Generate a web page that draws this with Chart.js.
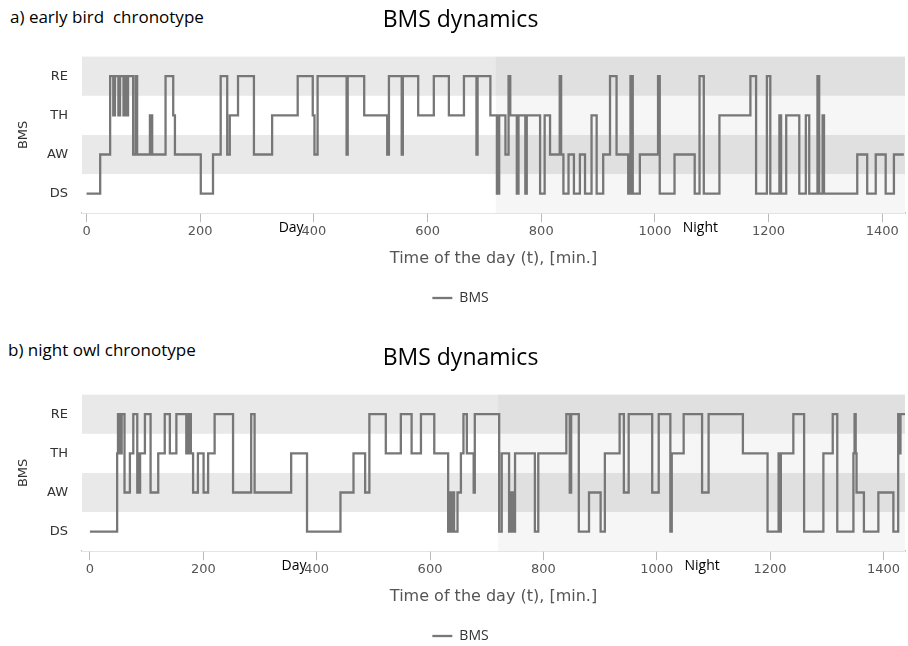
<!DOCTYPE html>
<html>
<head>
<meta charset="utf-8">
<script src="https://cdn.jsdelivr.net/npm/chart.js@4"></script>
<style>
  body { margin: 0; background: #fff; width: 908px; height: 646px; position: relative; overflow: hidden; }
  .panel { position: absolute; left: 0; width: 908px; height: 315px; }
  .tag { position: absolute; font-family: "Open Sans", sans-serif; font-size: 17px; color: #000; white-space: pre; }
</style>
</head>
<body>
<div class="tag" style="left:10px; top:5px;">a) early bird  chronotype</div>
<div class="tag" style="left:8px; top:338px;">b) night owl chronotype</div>
<div class="panel" style="top:0;"><canvas id="chart_a" width="908" height="315"></canvas></div>
<div class="panel" style="top:338px;"><canvas id="chart_b" width="908" height="315"></canvas></div>
<script>
const states = ["DS", "AW", "TH", "RE"];
const x_ticks = [0, 200, 400, 600, 800, 1000, 1200, 1400];
const period_labels = ["Day", "Night"];
const period_pos = [360, 1080];
const night_start = 720;

// each entry: time (min.) when the state starts
const early_t = [0, 24, 41.5, 47, 50, 56, 59, 65, 68, 71, 73, 82, 86.5, 89, 111.5, 115.5, 139, 152.5, 155.5, 201,
  222.5, 236, 247.5, 252, 266.5, 294.5, 326.5, 371.5, 398, 401, 406.5, 457.5, 459.5, 488.5, 529, 532, 554.5, 556.5,
  583.5, 611, 637.5, 664, 686, 688, 710.5, 722, 726, 737, 742.5, 745.5, 757, 760, 772, 774.5, 798, 806, 815.5,
  832.5, 835, 839, 848, 857.5, 868, 877, 888.5, 897.5, 909, 921, 932.5, 953, 957, 961, 973.5, 1005.5, 1008.5,
  1034.5, 1070, 1078.5, 1086, 1113.5, 1168, 1178, 1197, 1203, 1219, 1222, 1231, 1254, 1265.5, 1271.5, 1286, 1289,
  1295, 1297.5, 1356, 1373.5, 1388.5, 1406, 1420.5, 1438];
const early_s = ["DS", "AW", "RE", "TH", "RE", "TH", "RE", "TH", "RE", "TH", "RE", "AW", "RE", "AW", "TH", "AW", "RE", "TH", "AW", "DS",
  "AW", "RE", "AW", "TH", "RE", "AW", "TH", "RE", "TH", "AW", "RE", "AW", "RE", "TH", "AW", "RE", "AW", "RE",
  "TH", "RE", "TH", "RE", "AW", "RE", "TH", "DS", "TH", "AW", "RE", "TH", "DS", "TH", "DS", "TH", "DS", "TH", "AW",
  "RE", "AW", "DS", "AW", "DS", "AW", "DS", "TH", "DS", "AW", "RE", "AW", "DS", "RE", "DS", "AW", "RE", "DS",
  "AW", "DS", "RE", "DS", "TH", "RE", "DS", "RE", "DS", "TH", "DS", "TH", "DS", "TH", "DS", "RE", "DS",
  "TH", "DS", "AW", "DS", "AW", "DS", "AW", "AW"];

const owl_t = [0, 48, 49.5, 51, 52.5, 54, 56, 61, 70.5, 76.5, 83.5, 85, 86.5, 88.5, 97, 107, 120.5, 132, 141, 152.5,
  170, 172, 174, 176, 178, 182, 190.5, 200.5, 208.5, 220, 252.5, 284.5, 290.5, 355, 383, 442, 465, 485.5, 493,
  522, 548.5, 567.5, 584, 607.5, 632, 635, 637, 639, 642.5, 648.5, 654.5, 659, 665, 677, 679, 722, 726.5, 739.5,
  741, 743.5, 745.5, 747.5, 750, 785, 791, 840.5, 846.5, 849, 862.5, 880.5, 901, 908.5, 934.5, 942, 950.5, 992,
  1003.5, 1024, 1026.5, 1047.5, 1080, 1091.5, 1152, 1195.5, 1215, 1216.5, 1219, 1241, 1260, 1294, 1310.5, 1318.5,
  1347, 1349, 1351, 1352.5, 1365.5, 1391, 1417.5, 1426, 1428, 1430, 1438];
const owl_s = ["DS", "TH", "RE", "TH", "RE", "TH", "RE", "AW", "TH", "RE", "AW", "TH", "AW", "TH", "RE", "AW", "TH", "RE", "TH", "RE",
  "TH", "RE", "TH", "RE", "TH", "AW", "TH", "AW", "TH", "RE", "AW", "RE", "AW", "TH", "DS", "AW", "TH", "AW", "RE",
  "TH", "RE", "TH", "RE", "TH", "DS", "AW", "DS", "AW", "DS", "AW", "TH", "RE", "TH", "AW", "RE", "DS", "TH", "DS",
  "AW", "DS", "AW", "DS", "TH", "DS", "TH", "RE", "AW", "RE", "DS", "AW", "DS", "TH", "RE", "AW", "RE", "AW",
  "RE", "DS", "TH", "RE", "AW", "RE", "TH", "DS", "TH", "DS", "TH", "RE", "DS", "TH", "RE", "DS",
  "TH", "RE", "TH", "AW", "DS", "AW", "DS", "RE", "TH", "RE", "RE"];

const to_points = (t, s) => t.map((v, i) => ({ x: v, y: states.indexOf(s[i]) }));

// grey bands behind RE and AW, lighter shade over the night half
const bands = {
  id: "bands",
  beforeDatasetsDraw(chart) {
    const { ctx, chartArea: a, scales: { x, y } } = chart;
    ctx.save();
    states.forEach((s, i) => {
      const top = y.getPixelForValue(i + 0.5);
      const bot = y.getPixelForValue(i - 0.5);
      ctx.fillStyle = (s === "RE" || s === "AW") ? "#e9e9e9" : "#ffffff";
      ctx.fillRect(a.left, top, a.right - a.left, bot - top);
    });
    const nx = x.getPixelForValue(night_start);
    ctx.fillStyle = "rgba(0,0,0,0.035)";
    ctx.fillRect(nx, a.top, a.right - nx, a.bottom - a.top);
    ctx.restore();
  },
  afterDraw(chart) {
    const { ctx, chartArea: a, scales: { x } } = chart;
    ctx.save();
    ctx.font = "14px 'Open Sans', sans-serif";
    ctx.fillStyle = "#000";
    ctx.textAlign = "center";
    ctx.textBaseline = "middle";
    period_labels.forEach((l, i) => ctx.fillText(l, x.getPixelForValue(period_pos[i]), a.bottom + 15));
    ctx.restore();
  },
};

function make_chart(id, t, s, xmin, xmax) {
  return new Chart(document.getElementById(id), {
    type: "line",
    data: {
      datasets: [
        {
          label: "BMS",
          data: to_points(t, s),
          stepped: true,
          borderColor: "#777777",
          backgroundColor: "#777777",
          borderWidth: 2.3,
          pointRadius: 0,
        },
      ],
    },
    options: {
      responsive: false,
      animation: false,
      layout: { padding: { right: 3, left: 16 } },
      plugins: {
        title: {
          display: true,
          text: "BMS dynamics",
          color: "#000",
          font: { family: "Open Sans", size: 23, weight: "normal" },
          padding: { top: 7, bottom: 22 },
        },
        legend: {
          position: "bottom",
          labels: {
            usePointStyle: true,
            pointStyle: "line",
            pointStyleWidth: 20,
            padding: 4,
            color: "#333",
            font: { family: "Open Sans", size: 14 },
          },
        },
        tooltip: { enabled: false },
      },
      scales: {
        x: {
          type: "linear",
          min: xmin,
          max: xmax,
          afterBuildTicks: (axis) => { axis.ticks = x_ticks.map((v) => ({ value: v })); },
          grid: { drawOnChartArea: false, tickLength: 9, color: "#bbb" },
          border: { color: "#bbb", width: 1.5 },
          ticks: { color: "#555", font: { family: "DejaVu Sans", size: 13 }, padding: 2, callback: (v) => String(v) },
          title: {
            display: true,
            text: "Time of the day (t), [min.]",
            color: "#555",
            font: { family: "DejaVu Sans", size: 16 },
            padding: { top: 7, bottom: 19 },
          },
        },
        y: {
          type: "linear",
          min: -0.5,
          max: 3.5,
          afterBuildTicks: (axis) => { axis.ticks = states.map((v, i) => ({ value: i })); },
          afterFit: (axis) => { axis.width = 66; },
          grid: { display: false },
          border: { display: false },
          ticks: { color: "#333", font: { family: "DejaVu Sans", size: 13 }, padding: 6, callback: (v) => states[v] },
          title: {
            display: true,
            text: "BMS",
            color: "#333",
            font: { family: "DejaVu Sans", size: 13 },
            padding: { top: 0 },
          },
        },
      },
    },
    plugins: [bands],
  });
}

const chart_a = make_chart("chart_a", early_t, early_s, -8, 1440);
const chart_b = make_chart("chart_b", owl_t, owl_s, -14, 1438);
</script>
</body>
</html>
